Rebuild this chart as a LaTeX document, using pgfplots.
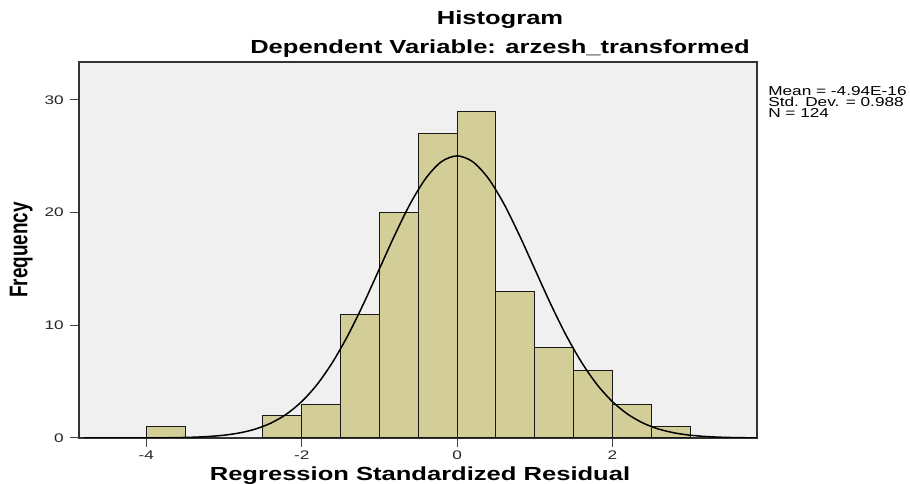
\documentclass[border=0pt]{standalone}
\usepackage{fontspec}
\setmainfont{Liberation Sans}
\usepackage{pgfplots}
\pgfplotsset{compat=1.18}
\definecolor{barfill}{RGB}{211,206,152}
\definecolor{bgfill}{RGB}{240,240,240}
\begin{document}
\begin{tikzpicture}[x=1bp,y=1bp]
\useasboundingbox (0,0) rectangle (910,484);
\begin{axis}[
  at={(79bp,46bp)}, anchor=south west,
  scale only axis, width=678bp, height=376bp,
  xmin=-4.867, xmax=3.862, ymin=0, ymax=33.36,
  axis background/.style={fill=bgfill},
  axis line style={draw=black!80, line width=1.1bp},
  xtick={-4,-2,0,2}, ytick={0,10,20,30},
  xticklabels={-4,-2,0,2},
  tick align=outside, xtick pos=bottom, ytick pos=left,
  major tick length=9bp,
  tick style={black!75, line width=1bp},
  /pgf/number format/assume math mode=true,
  every tick label/.append style={font=\fontsize{12.5}{12.5}\selectfont, text=black!85},
  xticklabel style={xscale=1.38, yshift=0bp},
  yticklabel style={xscale=1.38, xshift=-1bp},
  ylabel={\textbf{Frequency}},
  ylabel style={font=\fontsize{19}{19}\selectfont, yscale=1.35, yshift=2bp},
  clip=true,
]
\addplot[ybar interval, fill=barfill, draw=black!90, line width=1bp] coordinates {
  (-4.0,1) (-3.5,0) (-3.0,0) (-2.5,2) (-2.0,3) (-1.5,11) (-1.0,20) (-0.5,27)
  (0.0,29) (0.5,13) (1.0,8) (1.5,6) (2.0,3) (2.5,1) (3.0,1)
};
\addplot[smooth, black, line width=1.5bp, mark=none] coordinates {
  (-4.8,0.0002) (-4.6,0.0005) (-4.4,0.0013) (-4.2,0.0030) (-4.0,0.007)
  (-3.8,0.015) (-3.6,0.033) (-3.4,0.067) (-3.2,0.132) (-3.0,0.249)
  (-2.8,0.451) (-2.6,0.785) (-2.4,1.31) (-2.2,2.10) (-2.0,3.23)
  (-1.8,4.76) (-1.6,6.75) (-1.4,9.17) (-1.2,11.97) (-1.0,15.00)
  (-0.8,18.03) (-0.6,20.82) (-0.4,23.06) (-0.2,24.52) (0.0,25.03)
  (0.2,24.52) (0.4,23.06) (0.6,20.82) (0.8,18.03) (1.0,15.00)
  (1.2,11.97) (1.4,9.17) (1.6,6.75) (1.8,4.76) (2.0,3.23)
  (2.2,2.10) (2.4,1.31) (2.6,0.785) (2.8,0.451) (3.0,0.249)
  (3.2,0.132) (3.4,0.067) (3.6,0.033) (3.8,0.015) (4.0,0.007)
};
\end{axis}
\node[font=\bfseries\fontsize{19}{19}\selectfont, xscale=1.35] at (500,464) {Histogram};
\node[font=\bfseries\fontsize{19}{19}\selectfont, xscale=1.35] at (500,435) {Dependent Variable: arzesh\_transformed};
\node[font=\bfseries\fontsize{19}{19}\selectfont, xscale=1.35] at (420,8) {Regression Standardized Residual};
\node[font=\fontsize{13}{11.3}\selectfont, xscale=1.33, anchor=north west, align=left, inner sep=0pt] at (768,398)
  {Mean = -4.94E-16\\Std. Dev. = 0.988\\N = 124};
\end{tikzpicture}
\end{document}
